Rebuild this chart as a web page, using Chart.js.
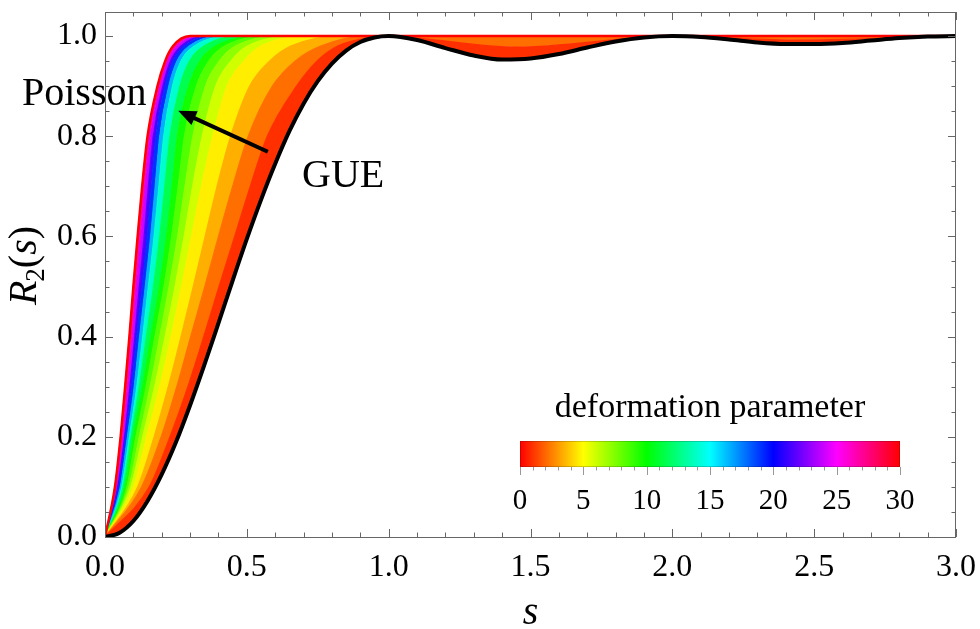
<!DOCTYPE html>
<html><head><meta charset="utf-8">
<script src="https://cdn.jsdelivr.net/npm/chart.js@4.4.0/dist/chart.umd.min.js"></script>
<style>html,body{margin:0;padding:0;background:#fff}</style>
</head><body>
<canvas id="c" width="980" height="629"></canvas>
<script>
// ---------- data ----------
const xTicks = [0, 0.5, 1.0, 1.5, 2.0, 2.5, 3.0];
const yTicks = [0, 0.2, 0.4, 0.6, 0.8, 1.0];
const cbTicks = [0, 5, 10, 15, 20, 25, 30];

// GUE curve R2(s)
const gueS = [0,0.05,0.1,0.15,0.2,0.25,0.3,0.35,0.4,0.45,0.5,0.55,0.6,0.65,0.7,0.75,0.8,0.85,0.9,0.95,1.0,
  1.1,1.2,1.3,1.4,1.5,1.6,1.7,1.8,1.9,2.0,2.1,2.2,2.3,2.4,2.5,2.6,2.7,2.8,2.9,3.0];
const gueR = [0,0.008,0.032,0.072,0.125,0.189,0.263,0.343,0.427,0.512,0.595,0.673,0.745,0.810,0.865,0.910,0.945,0.971,0.988,0.997,1.0,
  0.992,0.976,0.961,0.953,0.955,0.964,0.977,0.989,0.997,1.0,0.998,0.993,0.987,0.984,0.984,0.986,0.991,0.996,0.999,1.0];

// deformed curves: s where each curve reaches the R level
const rLevels = [0, 0.1, 0.2, 0.3, 0.4, 0.5, 0.6, 0.7, 0.8, 0.9, 0.95, 0.98, 1.0];
const deformParams = [1.25, 2.5, 3.75, 5, 6.25, 7.5, 8.75, 10, 12.5, 15, 17.5, 20, 22.5, 25, 27.5, 30];
const sP1_25 = [0, 0.156, 0.229, 0.292, 0.348, 0.402, 0.457, 0.512, 0.572, 0.675, 0.747, 0.820];
const tailS1_25 = [0.93, 1.0, 1.45, 2.0, 2.45, 3.0];
const tailR1_25 = [0.997, 0.999, 0.978, 1.0, 0.992, 1.0];
const sP2_5  = [0, 0.129, 0.198, 0.253, 0.302, 0.352, 0.400, 0.450, 0.505, 0.590, 0.670, 0.760, 0.920];
const sP3_75 = [0, 0.115, 0.173, 0.223, 0.268, 0.311, 0.353, 0.395, 0.443, 0.510, 0.580, 0.655, 0.835];
const sP5    = [0, 0.100, 0.147, 0.193, 0.233, 0.270, 0.305, 0.340, 0.380, 0.430, 0.490, 0.550, 0.750];
const sP6_25 = [0, 0.091, 0.133, 0.175, 0.212, 0.247, 0.279, 0.309, 0.343, 0.390, 0.444, 0.502, 0.700];
const sP7_5  = [0, 0.084, 0.121, 0.159, 0.193, 0.226, 0.256, 0.282, 0.310, 0.354, 0.403, 0.460, 0.655];
const sP8_75 = [0, 0.077, 0.109, 0.145, 0.176, 0.208, 0.235, 0.258, 0.280, 0.322, 0.366, 0.422, 0.610];
const sP10   = [0, 0.071, 0.100, 0.133, 0.162, 0.192, 0.217, 0.237, 0.255, 0.295, 0.335, 0.390, 0.580];
const sP12_5 = [0, 0.064, 0.092, 0.121, 0.146, 0.171, 0.193, 0.211, 0.229, 0.264, 0.298, 0.349, 0.510];
const sP15   = [0, 0.059, 0.086, 0.112, 0.133, 0.153, 0.173, 0.190, 0.207, 0.238, 0.268, 0.315, 0.450];
const sP17_5 = [0, 0.054, 0.079, 0.103, 0.122, 0.142, 0.161, 0.177, 0.193, 0.225, 0.254, 0.297, 0.410];
const sP20   = [0, 0.049, 0.073, 0.094, 0.112, 0.131, 0.149, 0.164, 0.180, 0.212, 0.240, 0.280, 0.380];
const sP22_5 = [0, 0.045, 0.069, 0.088, 0.105, 0.121, 0.138, 0.153, 0.170, 0.204, 0.231, 0.267, 0.355];
const sP25   = [0, 0.041, 0.065, 0.082, 0.098, 0.112, 0.127, 0.143, 0.160, 0.196, 0.222, 0.255, 0.330];
const sP27_5 = [0, 0.038, 0.060, 0.076, 0.092, 0.106, 0.121, 0.137, 0.155, 0.190, 0.217, 0.247, 0.315];
const sP30   = [0, 0.035, 0.055, 0.071, 0.086, 0.100, 0.115, 0.131, 0.150, 0.185, 0.212, 0.240, 0.300];

// annotation anchor (data coords)
const arrowTail = {x: 0.574, y: 0.769};
const arrowTip  = {x: 0.258, y: 0.851};

// ---------- build ----------
const SERIF = '"Liberation Serif", "Times New Roman", serif';
const hue = p => `hsl(${(p * 12) % 360},100%,50%)`;
const pts = (s, r) => s.map((v, i) => ({x: v, y: r[i]}));
const withTail = s => pts(s, rLevels).concat([{x: 3, y: 1}]);

const gue = pts(gueS, gueR);
const curves = [
  gue,
  pts(sP1_25.concat(tailS1_25), rLevels.slice(0, sP1_25.length).concat(tailR1_25)),
  withTail(sP2_5), withTail(sP3_75), withTail(sP5), withTail(sP6_25), withTail(sP7_5),
  withTail(sP8_75), withTail(sP10), withTail(sP12_5), withTail(sP15), withTail(sP17_5),
  withTail(sP20), withTail(sP22_5), withTail(sP25), withTail(sP27_5), withTail(sP30)
];
const params = [0].concat(deformParams);

const datasets = [
  {data: gue, borderColor: '#000', borderWidth: 4, fill: false, order: 0, cubicInterpolationMode: 'monotone'},
  {data: curves[curves.length - 1], borderColor: 'hsl(0,100%,50%)', borderWidth: 2.5, fill: false, order: 1, cubicInterpolationMode: 'monotone'}
];
for (let k = 1; k < curves.length; k++) {
  const col = hue((params[k - 1] + params[k]) / 2 + 0.3);
  datasets.push({
    data: curves[k], borderColor: col, borderWidth: 1.2, backgroundColor: col,
    fill: k === 1 ? 0 : k, order: 2, cubicInterpolationMode: 'monotone'
  });
}

const decor = {
  id: 'decor',
  afterDraw(chart) {
    const {ctx, chartArea: a, scales: {x, y}} = chart;
    ctx.save();
    // frame
    ctx.strokeStyle = '#666'; ctx.lineWidth = 1;
    ctx.strokeRect(Math.round(a.left) + 0.5, Math.round(a.top) + 0.5, Math.round(a.right - a.left) - 1, Math.round(a.bottom - a.top));
    // inward ticks
    ctx.beginPath();
    for (let i = 0; i <= 30; i++) {
      const v = i / 10, px = Math.round(x.getPixelForValue(v)) + 0.5;
      const len = i % 5 === 0 ? 8 : 4.5;
      ctx.moveTo(px, a.bottom); ctx.lineTo(px, a.bottom - len);
      ctx.moveTo(px, a.top); ctx.lineTo(px, a.top + len);
    }
    for (let i = 0; i <= 20; i++) {
      const v = i / 20, py = Math.round(y.getPixelForValue(v)) + 0.5;
      const len = i % 4 === 0 ? 8 : 4.5;
      ctx.moveTo(a.left, py); ctx.lineTo(a.left + len, py);
      ctx.moveTo(a.right, py); ctx.lineTo(a.right - len, py);
    }
    ctx.stroke();

    // arrow
    const tx = x.getPixelForValue(arrowTail.x), ty = y.getPixelForValue(arrowTail.y);
    const hx = x.getPixelForValue(arrowTip.x), hy = y.getPixelForValue(arrowTip.y);
    const ang = Math.atan2(hy - ty, hx - tx), hl = 18, hw = 7.5;
    const bx = hx - hl * Math.cos(ang), by = hy - hl * Math.sin(ang);
    ctx.strokeStyle = '#000'; ctx.lineWidth = 4; ctx.lineCap = 'butt';
    ctx.beginPath(); ctx.moveTo(tx, ty); ctx.lineTo(bx + 2 * Math.cos(ang), by + 2 * Math.sin(ang)); ctx.stroke();
    ctx.fillStyle = '#000';
    ctx.beginPath();
    ctx.moveTo(hx, hy);
    ctx.lineTo(bx + hw * Math.sin(ang), by - hw * Math.cos(ang));
    ctx.lineTo(bx - hw * Math.sin(ang), by + hw * Math.cos(ang));
    ctx.closePath(); ctx.fill();

    // labels
    ctx.fillStyle = '#000';
    ctx.font = `40px ${SERIF}`;
    ctx.textAlign = 'left'; ctx.textBaseline = 'alphabetic';
    ctx.fillText('Poisson', 22, 105);
    ctx.fillText('GUE', 302, 187);

    // colorbar
    const cbL = 520, cbR = 900, cbT = 441, cbB = 467;
    const g = ctx.createLinearGradient(cbL, 0, cbR, 0);
    for (let h = 0; h <= 360; h += 15) g.addColorStop(h / 360, `hsl(${h % 360},100%,50%)`);
    ctx.fillStyle = g; ctx.fillRect(cbL, cbT, cbR - cbL, cbB - cbT);
    ctx.strokeStyle = 'rgba(0,0,0,0.18)'; ctx.lineWidth = 1;
    ctx.strokeRect(cbL + 0.5, cbT + 0.5, cbR - cbL - 1, cbB - cbT - 1);
    const cbMin = cbTicks[0], cbMax = cbTicks[cbTicks.length - 1];
    const cbPx = v => cbL + (v - cbMin) / (cbMax - cbMin) * (cbR - cbL);
    ctx.strokeStyle = '#999';
    ctx.beginPath();
    for (let v = cbMin; v <= cbMax; v++) {
      const px = Math.round(cbPx(v)) + 0.5;
      ctx.moveTo(px, cbB); ctx.lineTo(px, cbB + (v % 5 === 0 ? 8 : 3.5));
    }
    ctx.stroke();
    ctx.fillStyle = '#000';
    ctx.font = `29px ${SERIF}`; ctx.textAlign = 'center'; ctx.textBaseline = 'middle';
    cbTicks.forEach(v => ctx.fillText(String(v), cbPx(v), 501));
    ctx.font = `34px ${SERIF}`; ctx.textBaseline = 'alphabetic';
    ctx.fillText('deformation parameter', (cbL + cbR) / 2, 417);

    // x title
    ctx.font = `italic 40px ${SERIF}`; ctx.textAlign = 'center';
    ctx.fillText('s', (a.left + a.right) / 2, 624);

    // y title  R_2(s)
    ctx.translate(36, 265); ctx.rotate(-Math.PI / 2);
    const parts = [
      {t: 'R', f: `italic 40px ${SERIF}`, dy: 0},
      {t: '2', f: `27px ${SERIF}`, dy: 8},
      {t: '(', f: `40px ${SERIF}`, dy: 0},
      {t: 's', f: `italic 40px ${SERIF}`, dy: 0},
      {t: ')', f: `40px ${SERIF}`, dy: 0}
    ];
    let w = 0;
    parts.forEach(p => { ctx.font = p.f; p.w = ctx.measureText(p.t).width; w += p.w; });
    let cx = -w / 2; ctx.textAlign = 'left';
    parts.forEach(p => { ctx.font = p.f; ctx.fillText(p.t, cx, p.dy); cx += p.w + (p.t === 'R' ? -1 : 0); });
    ctx.restore();
  }
};

new Chart(document.getElementById('c'), {
  type: 'line',
  data: {datasets},
  options: {
    responsive: false, animation: false, devicePixelRatio: 1,
    layout: {padding: {top: 12, right: 24, left: 0, bottom: 0}},
    elements: {point: {radius: 0}},
    plugins: {legend: {display: false}, tooltip: {enabled: false}},
    scales: {
      x: {
        type: 'linear', min: 0, max: 3,
        afterBuildTicks: s => { s.ticks = xTicks.map(v => ({value: v})); },
        afterFit: s => { s.height = 92; s.paddingLeft = 0; s.paddingRight = 0; },
        grid: {display: false, drawTicks: false}, border: {display: false},
        ticks: {font: {family: SERIF, size: 32}, color: '#000', padding: 11, maxRotation: 0, callback: v => Number(v).toFixed(1)}
      },
      y: {
        type: 'linear', min: 0, max: 1.048,
        afterBuildTicks: s => { s.ticks = yTicks.map(v => ({value: v})); },
        afterFit: s => { s.width = 105; s.paddingTop = 0; s.paddingBottom = 0; },
        grid: {display: false, drawTicks: false}, border: {display: false},
        ticks: {font: {family: SERIF, size: 32}, color: '#000', padding: 8, callback: v => Number(v).toFixed(1)}
      }
    }
  },
  plugins: [decor]
});
</script>
</body></html>
